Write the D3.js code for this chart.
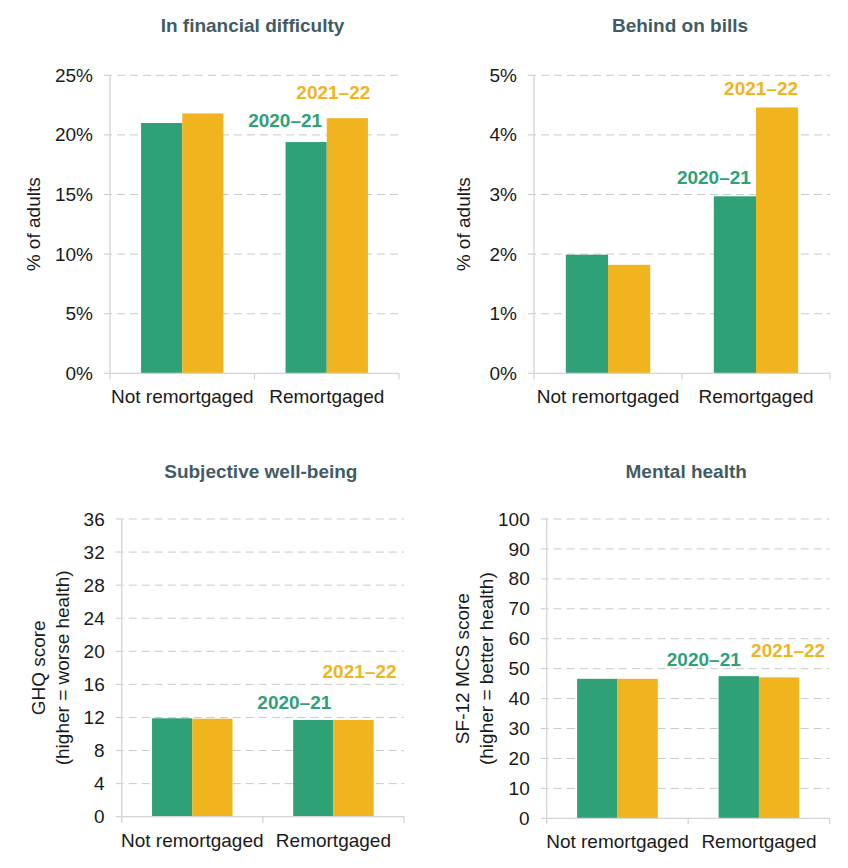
<!DOCTYPE html>
<html>
<head>
<meta charset="utf-8">
<script src="https://cdn.jsdelivr.net/npm/d3@7"></script>
<style>
  body { margin: 0; background: #fff; }
  text { font-family: "Liberation Sans", Arial, sans-serif; }
  .tick text { font-size: 19px; fill: #1a1a1a; }
</style>
</head>
<body>
<div id="chart-area"></div>
<script>
// data
var categories = ["Not remortgaged", "Remortgaged"];
var seriesNames = ["2020\u201321", "2021\u201322"];
var seriesColors = ["#30a077", "#efb41e"];

var financialDifficulty = [[21.0, 21.8], [19.4, 21.4]];
var behindOnBills = [[1.99, 1.82], [2.97, 4.46]];
var ghqScore = [[11.9, 11.85], [11.7, 11.7]];
var mcsScore = [[46.6, 46.6], [47.5, 47.1]];

var panelTitles = ["In financial difficulty", "Behind on bills", "Subjective well-being", "Mental health"];
var yTitles = [["% of adults"], ["% of adults"], ["GHQ score", "(higher = worse health)"], ["SF-12 MCS score", "(higher = better health)"]];
var yMax = [25, 5, 36, 100];
var yTicks = [[0, 5, 10, 15, 20, 25], [0, 1, 2, 3, 4, 5], [0, 4, 8, 12, 16, 20, 24, 28, 32, 36], [0, 10, 20, 30, 40, 50, 60, 70, 80, 90, 100]];
var tickFormats = [function(d) { return d + "%"; }, function(d) { return d + "%"; }, String, String];

// where the series labels sit (value height, x shift from the bar centre)
var labelValues = [[20.66, 23.0], [3.18, 4.67], [13.0, 16.8], [50.9, 53.9]];
var labelShift = [[-21, -14], [-21, -16], [-19, 6], [-35, 9]];

var panelData = [financialDifficulty, behindOnBills, ghqScore, mcsScore];

// layout of each panel box (plot area in page pixels)
var boxes = [
    {left: 110, right: 399, top: 75.3, bottom: 373.3, titleY: 32, yTitleX: [33]},
    {left: 534, right: 830, top: 75.3, bottom: 373.3, titleY: 32, yTitleX: [463]},
    {left: 121.7, right: 404, top: 519, bottom: 816.7, titleY: 478, yTitleX: [38, 62]},
    {left: 546.7, right: 829.7, top: 519, bottom: 818.3, titleY: 478, yTitleX: [462, 486]}
];

var svg = d3.select("#chart-area")
    .append("svg")
    .attr("width", 848)
    .attr("height", 868);

boxes.forEach(function(box, p) {
    var width = box.right - box.left,
        height = box.bottom - box.top;

    var g = svg.append("g")
        .attr("transform", "translate(" + box.left + "," + box.top + ")");

    var x0 = d3.scaleBand()
        .domain(categories)
        .range([0, width])
        .paddingInner(0.43)
        .paddingOuter(0.215);

    var x1 = d3.scaleBand()
        .domain(seriesNames)
        .range([0, x0.bandwidth()]);

    var y = d3.scaleLinear()
        .domain([0, yMax[p]])
        .range([height, 0]);

    // dashed gridlines
    g.selectAll(".grid")
        .data(yTicks[p].filter(function(d) { return d > 0; }))
        .enter()
        .append("line")
        .attr("x1", -6)
        .attr("x2", width)
        .attr("y1", d => y(d))
        .attr("y2", d => y(d))
        .attr("stroke", "#c9c9c9")
        .attr("stroke-width", 1)
        .attr("stroke-dasharray", "8,5");

    var yAxis = g.append("g")
        .call(d3.axisLeft(y).tickValues(yTicks[p]).tickFormat(tickFormats[p]).tickSize(0).tickPadding(17));
    yAxis.select(".domain").remove();

    // y axis line
    g.append("line")
        .attr("x1", 0).attr("x2", 0)
        .attr("y1", 0).attr("y2", height)
        .attr("stroke", "#d4d4d4")
        .attr("stroke-width", 1.3);

    // bars
    var groups = g.selectAll(".cat")
        .data(categories)
        .enter()
        .append("g")
        .attr("transform", d => "translate(" + x0(d) + ",0)");

    groups.selectAll("rect")
        .data(function(c, i) {
            return panelData[p][i].map(function(v, s) { return {series: seriesNames[s], value: v, s: s}; });
        })
        .enter()
        .append("rect")
        .attr("x", d => x1(d.series))
        .attr("y", d => y(d.value))
        .attr("width", x1.bandwidth())
        .attr("height", d => height - y(d.value))
        .attr("fill", d => seriesColors[d.s]);

    // x axis
    g.append("line")
        .attr("x1", -6).attr("x2", width)
        .attr("y1", height).attr("y2", height)
        .attr("stroke", "#d4d4d4")
        .attr("stroke-width", 1.3);

    g.selectAll(".xtick")
        .data([0, width / 2, width])
        .enter()
        .append("line")
        .attr("x1", d => d).attr("x2", d => d)
        .attr("y1", height).attr("y2", height + 6)
        .attr("stroke", "#d4d4d4")
        .attr("stroke-width", 1.3);

    g.selectAll(".xlabel")
        .data(categories)
        .enter()
        .append("text")
        .attr("x", d => x0(d) + x0.bandwidth() / 2)
        .attr("y", height + 30)
        .attr("text-anchor", "middle")
        .style("font-size", "19px")
        .style("fill", "#1a1a1a")
        .text(d => d);

    // series labels over the remortgaged bars
    seriesNames.forEach(function(name, s) {
        g.append("text")
            .attr("x", x0(categories[1]) + x1(name) + x1.bandwidth() / 2 + labelShift[p][s])
            .attr("y", y(labelValues[p][s]))
            .attr("text-anchor", "middle")
            .style("font-size", "19px")
            .style("font-weight", "bold")
            .style("fill", seriesColors[s])
            .text(name);
    });

    // panel title
    svg.append("text")
        .attr("x", box.left + width / 2 - 2)
        .attr("y", box.titleY)
        .attr("text-anchor", "middle")
        .style("font-size", "19px")
        .style("font-weight", "bold")
        .style("fill", "#415c64")
        .text(panelTitles[p]);

    // y axis title
    yTitles[p].forEach(function(line, k) {
        svg.append("text")
            .attr("transform", "translate(" + box.yTitleX[k] + "," + (box.top + height / 2) + ") rotate(-90)")
            .attr("text-anchor", "middle")
            .attr("dy", "0.35em")
            .style("font-size", "19px")
            .style("fill", "#1a1a1a")
            .text(line);
    });
});
</script>
</body>
</html>
